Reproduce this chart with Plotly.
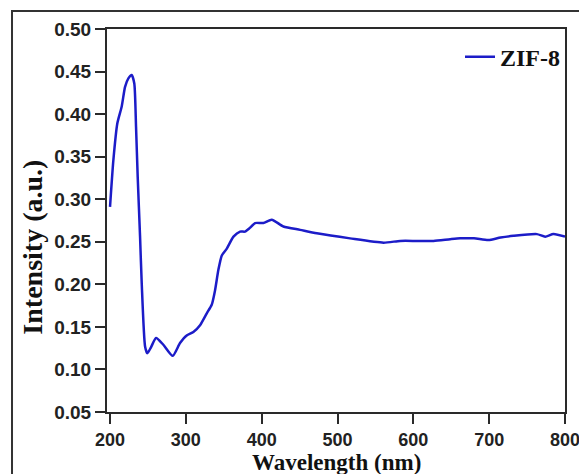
import plotly.graph_objects as go

# ZIF-8 UV-vis absorption spectrum
wavelength = [200, 204.4, 209.6, 215.4, 219.8, 224.2, 228.6, 232, 234.3, 236.5, 239.6,
              241.8, 246.2, 249.2, 254, 260.7, 270.3, 282.7, 292.3, 301.1, 309.9, 318.7,
              327.6, 334.1, 338.5, 342.9, 347.4, 354, 362.8, 371.5, 378, 384, 391.3,
              402.2, 413.3, 428.6, 450.7, 472.7, 516.6, 560.6, 582.6, 604.6, 626.6,
              648.6, 661.7, 680, 699, 715, 732, 762.9, 773.9, 784.8, 800]
intensity = [0.291, 0.346, 0.389, 0.409, 0.432, 0.442, 0.446, 0.436, 0.385, 0.326, 0.256,
             0.201, 0.127, 0.119, 0.126, 0.137, 0.129, 0.116, 0.131, 0.140, 0.144, 0.152,
             0.166, 0.176, 0.193, 0.217, 0.234, 0.242, 0.256, 0.262, 0.262, 0.266, 0.272,
             0.272, 0.276, 0.268, 0.264, 0.260, 0.254, 0.249, 0.251, 0.251, 0.251,
             0.253, 0.254, 0.254, 0.252, 0.255, 0.257, 0.259, 0.256, 0.259, 0.256]

x_ticks = [200, 300, 400, 500, 600, 700, 800]
y_ticks = [0.05, 0.10, 0.15, 0.20, 0.25, 0.30, 0.35, 0.40, 0.45, 0.50]

fig = go.Figure()
fig.add_trace(go.Scatter(
    x=wavelength, y=intensity, mode="lines", name="<b>ZIF-8</b>",
    line=dict(color="#1c1cc8", width=2.5, shape="spline", smoothing=0.6),
))

axis_common = dict(
    showline=True, linecolor="#2a2a2a", linewidth=2, mirror=True,
    ticks="outside", ticklen=10, tickwidth=2, tickcolor="#2a2a2a",
    showgrid=False, zeroline=False, ticklabeloverflow="allow", automargin=False,
    tickfont=dict(family="Liberation Sans, Arial", size=19, color="#222222"),
)

fig.update_xaxes(range=[196, 800], tickvals=x_ticks,
                 ticktext=[f"<b>{v}</b>" for v in x_ticks], **axis_common)
fig.update_xaxes(tickfont_size=18)
fig.update_yaxes(range=[0.05, 0.5], tickvals=y_ticks,
                 ticktext=[f"<b>{v:.2f}</b>" for v in y_ticks], **axis_common)

# axis titles
serif = "Liberation Serif, Times New Roman"
fig.add_annotation(text="<b>Wavelength (nm)</b>", xref="paper", yref="paper",
                   x=0.5, y=-0.132, xanchor="center", yanchor="middle",
                   showarrow=False, font=dict(family=serif, size=23, color="#111111"))
fig.add_annotation(text="<b>Intensity (a.u.)</b>", xref="paper", yref="paper",
                   x=-0.163, y=0.43, xanchor="center", yanchor="middle",
                   textangle=-90, showarrow=False,
                   font=dict(family=serif, size=28, color="#111111"))

# outer frame around the figure
fig.add_shape(type="rect", xref="paper", yref="paper",
              x0=-0.2074, x1=1.15, y0=-0.25, y1=1.047,
              line=dict(color="#333333", width=2), layer="below")

fig.update_layout(
    width=579, height=474,
    margin=dict(l=107, r=14, t=29, b=62),
    plot_bgcolor="white", paper_bgcolor="white",
    showlegend=True,
    legend=dict(x=1.0, y=0.985, xanchor="right", yanchor="top",
                bgcolor="rgba(0,0,0,0)",
                font=dict(family=serif, size=24, color="#111111")),
)

fig.write_html("out.html")
